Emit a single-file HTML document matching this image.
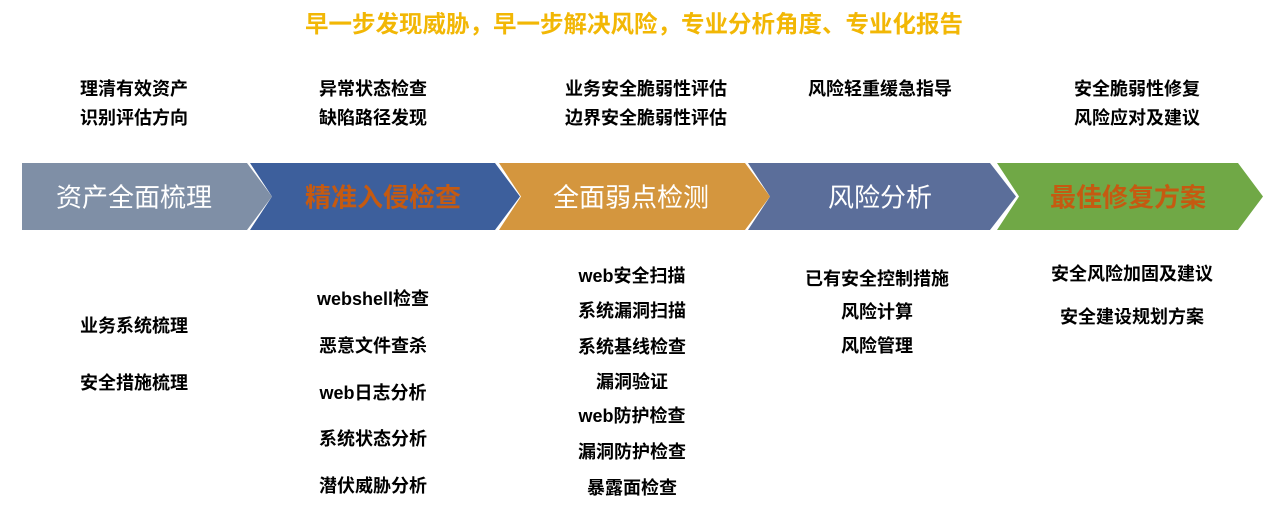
<!DOCTYPE html>
<html><head><meta charset="utf-8"><style>
body{margin:0;width:1268px;height:509px;background:#fff;position:relative;overflow:hidden;font-family:"Liberation Sans","Noto Sans CJK SC",sans-serif}
.t{position:absolute;transform:translate(-50%,-50%);white-space:nowrap;font-weight:bold;font-size:18px;color:#000}
.c{position:absolute;transform:translate(-50%,-50%);white-space:nowrap;font-size:26px}
</style></head><body>
<div class="t" style="left:634px;top:22px;font-size:23.5px;color:#f2b705">早一步发现威胁，早一步解决风险，专业分析角度、专业化报告</div>
<svg width="1268" height="509" style="position:absolute;left:0;top:0">
<polygon points="22,163 247,163 272,196.5 247,230 22,230" fill="#7f8fa6"/>
<polygon points="250,163 495,163 520,196.5 495,230 250,230 272,196.5" fill="#3d5f9c"/>
<polygon points="499,163 745,163 770,196.5 745,230 499,230 521,196.5" fill="#d4963e"/>
<polygon points="748,163 990,163 1016,196.5 990,230 748,230 770,196.5" fill="#5b6e9a"/>
<polygon points="997,163 1238,163 1263,196.5 1238,230 997,230 1019,196.5" fill="#70a846"/>
</svg>
<div class="c" style="left:134px;top:196px;color:#fff">资产全面梳理</div>
<div class="c" style="left:383px;top:196px;color:#c55a11;font-weight:bold">精准入侵检查</div>
<div class="c" style="left:631px;top:196px;color:#fff">全面弱点检测</div>
<div class="c" style="left:880px;top:196px;color:#fff">风险分析</div>
<div class="c" style="left:1128px;top:196px;color:#c55a11;font-weight:bold">最佳修复方案</div>

<div class="t" style="left:134px;top:88px">理清有效资产</div>
<div class="t" style="left:134px;top:117px">识别评估方向</div>
<div class="t" style="left:373px;top:88px">异常状态检查</div>
<div class="t" style="left:373px;top:117px">缺陷路径发现</div>
<div class="t" style="left:646px;top:88px">业务安全脆弱性评估</div>
<div class="t" style="left:646px;top:117px">边界安全脆弱性评估</div>
<div class="t" style="left:880px;top:88px">风险轻重缓急指导</div>
<div class="t" style="left:1137px;top:88px">安全脆弱性修复</div>
<div class="t" style="left:1137px;top:117px">风险应对及建议</div>

<div class="t" style="left:134px;top:325px">业务系统梳理</div>
<div class="t" style="left:134px;top:382px">安全措施梳理</div>

<div class="t" style="left:373px;top:298px">webshell检查</div>
<div class="t" style="left:373px;top:345px">恶意文件查杀</div>
<div class="t" style="left:373px;top:392px">web日志分析</div>
<div class="t" style="left:373px;top:438px">系统状态分析</div>
<div class="t" style="left:373px;top:485px">潜伏威胁分析</div>

<div class="t" style="left:632px;top:275px">web安全扫描</div>
<div class="t" style="left:632px;top:310px">系统漏洞扫描</div>
<div class="t" style="left:632px;top:346px">系统基线检查</div>
<div class="t" style="left:632px;top:381px">漏洞验证</div>
<div class="t" style="left:632px;top:415px">web防护检查</div>
<div class="t" style="left:632px;top:451px">漏洞防护检查</div>
<div class="t" style="left:632px;top:487px">暴露面检查</div>

<div class="t" style="left:877px;top:278px">已有安全控制措施</div>
<div class="t" style="left:877px;top:311px">风险计算</div>
<div class="t" style="left:877px;top:345px">风险管理</div>

<div class="t" style="left:1132px;top:273px">安全风险加固及建议</div>
<div class="t" style="left:1132px;top:316px">安全建设规划方案</div>
</body></html>
